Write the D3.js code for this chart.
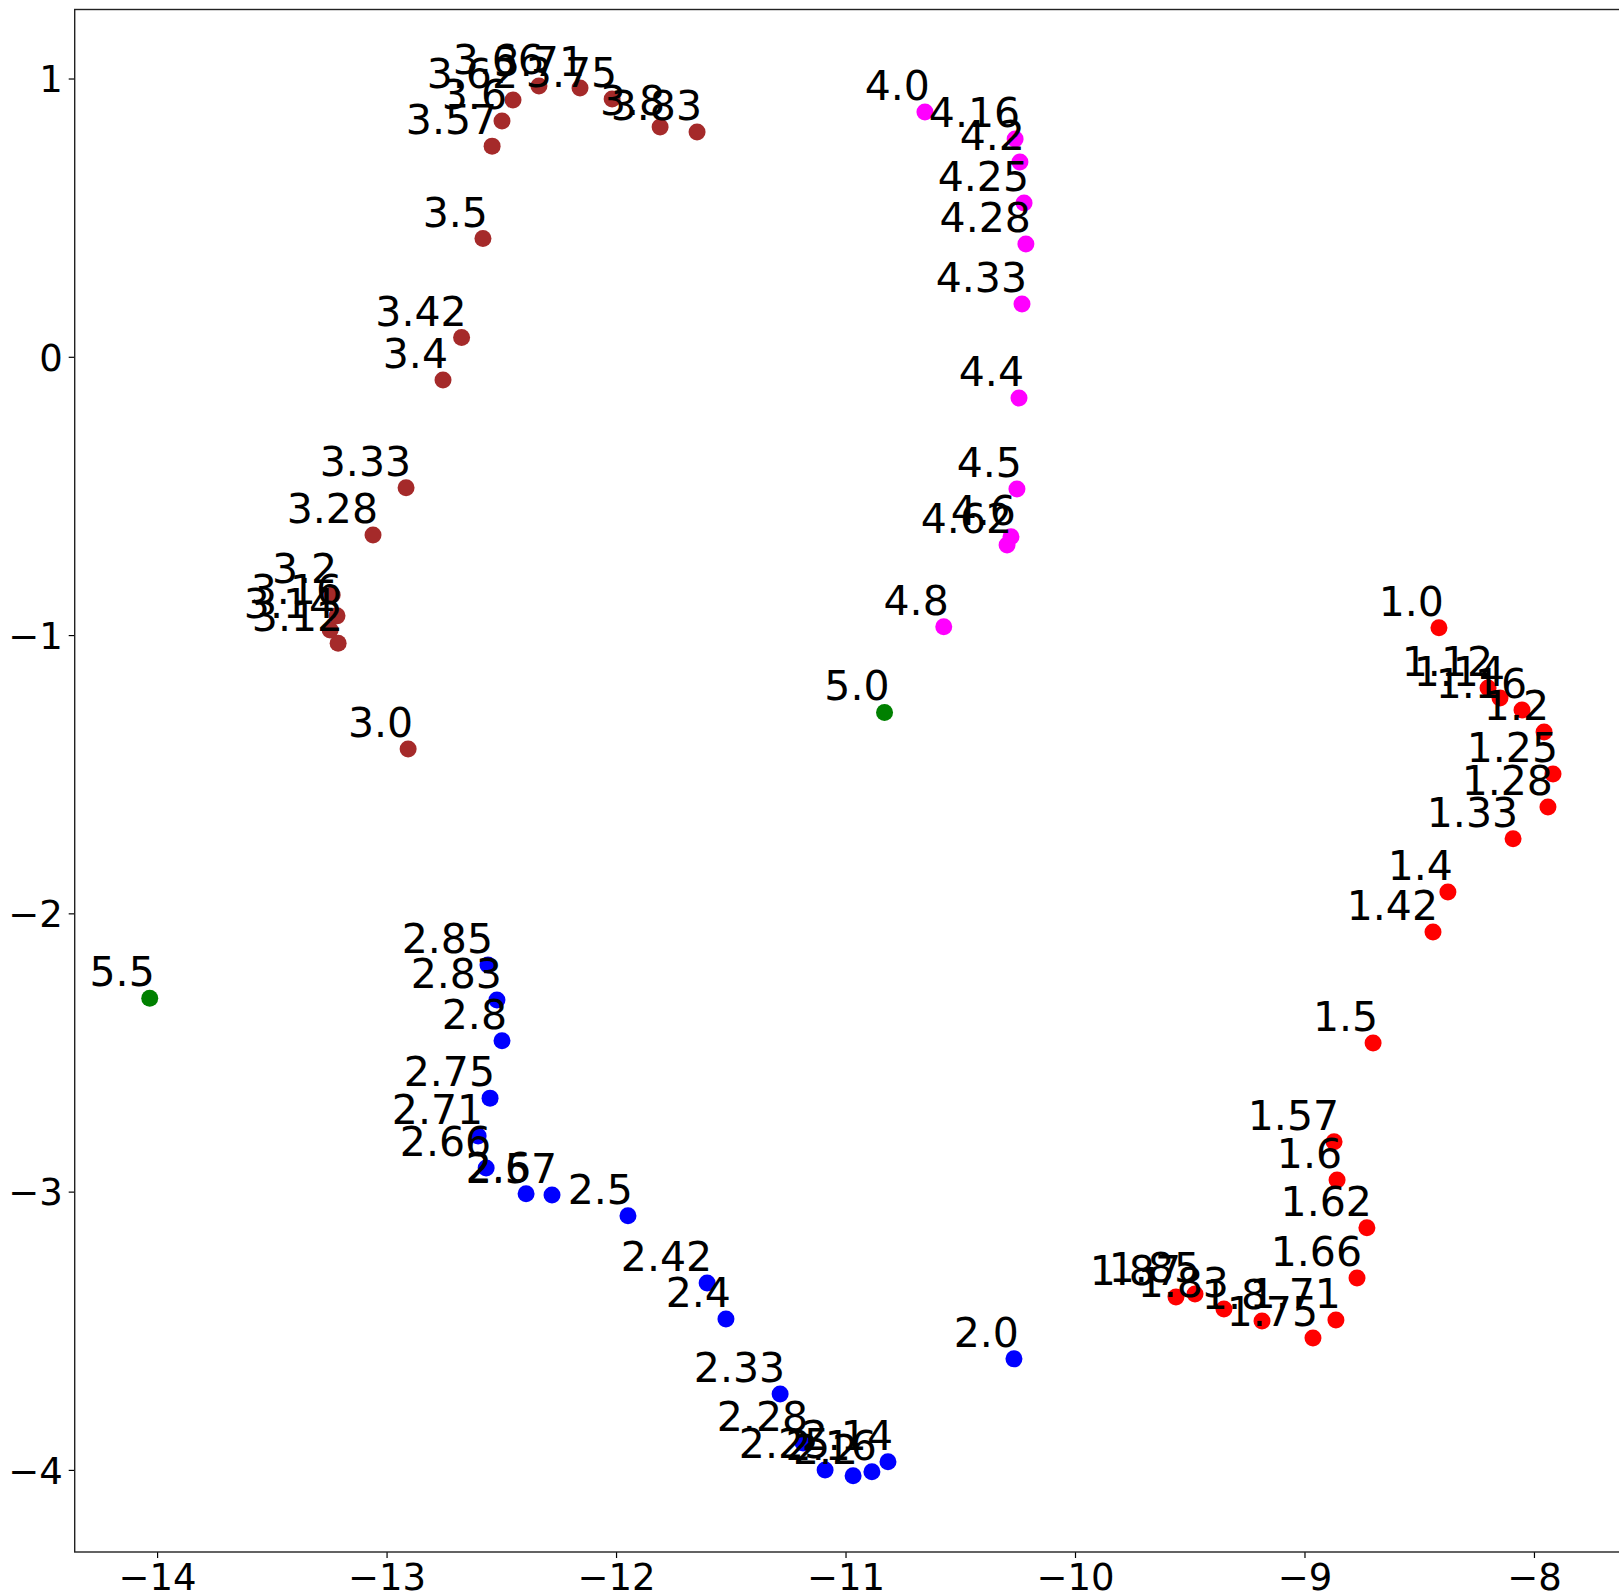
<!DOCTYPE html>
<html lang="en">
<head>
  <meta charset="UTF-8">
  <title>Labelled scatter</title>
  <style>
    body { margin: 0; background: #fff; }
    svg text { font-family: "DejaVu Sans", sans-serif; }
  </style>
</head>
<body>
  <svg id="chart"></svg>
  <script src="https://d3js.org/d3.v7.min.js"></script>
  <script>
    // one array set per colour group
    const redLabels = ["1.0","1.12","1.14","1.16","1.2","1.25","1.28","1.33","1.4","1.42","1.5","1.57","1.6","1.62","1.66","1.71","1.75","1.8","1.83","1.85","1.87"];
    const redX = [-8.414,-8.200,-8.148,-8.052,-7.956,-7.917,-7.939,-8.091,-8.375,-8.440,-8.701,-8.871,-8.858,-8.728,-8.771,-8.863,-8.963,-9.185,-9.351,-9.477,-9.560];
    const redY = [-0.974,-1.190,-1.226,-1.269,-1.348,-1.499,-1.618,-1.732,-1.923,-2.067,-2.466,-2.821,-2.958,-3.130,-3.310,-3.461,-3.526,-3.465,-3.422,-3.368,-3.379];

    const blueLabels = ["2.0","2.14","2.16","2.2","2.25","2.28","2.33","2.4","2.42","2.5","2.57","2.6","2.66","2.71","2.75","2.8","2.83","2.85"];
    const blueX = [-10.266,-10.815,-10.885,-10.967,-11.089,-11.185,-11.285,-11.521,-11.603,-11.948,-12.279,-12.392,-12.566,-12.601,-12.549,-12.497,-12.519,-12.558];
    const blueY = [-3.601,-3.971,-4.007,-4.021,-4.000,-3.903,-3.727,-3.458,-3.328,-3.087,-3.012,-3.008,-2.915,-2.800,-2.664,-2.458,-2.311,-2.186];

    const brownLabels = ["3.0","3.12","3.14","3.16","3.2","3.28","3.33","3.4","3.42","3.5","3.57","3.6","3.62","3.66","3.71","3.75","3.8","3.83"];
    const brownX = [-12.906,-13.211,-13.246,-13.216,-13.237,-13.059,-12.915,-12.754,-12.673,-12.580,-12.540,-12.497,-12.449,-12.336,-12.157,-12.017,-11.808,-11.647];
    const brownY = [-1.409,-1.029,-0.982,-0.931,-0.856,-0.640,-0.471,-0.083,0.069,0.425,0.757,0.847,0.923,0.973,0.966,0.926,0.826,0.808];

    const magentaLabels = ["4.0","4.16","4.2","4.25","4.28","4.33","4.4","4.5","4.6","4.62","4.8"];
    const magentaX = [-10.654,-10.261,-10.240,-10.222,-10.214,-10.231,-10.244,-10.253,-10.279,-10.296,-10.572];
    const magentaY = [0.880,0.783,0.700,0.553,0.405,0.190,-0.148,-0.475,-0.647,-0.676,-0.970];

    const greenLabels = ["5.0","5.5"];
    const greenX = [-10.830,-14.032];
    const greenY = [-1.278,-2.305];

    const xTicks = [-14,-13,-12,-11,-10,-9,-8];
    const yTicks = [1,0,-1,-2,-3,-4];

    const groups = [
      {labels: redLabels, xs: redX, ys: redY, color: "red"},
      {labels: blueLabels, xs: blueX, ys: blueY, color: "blue"},
      {labels: brownLabels, xs: brownX, ys: brownY, color: "brown"},
      {labels: magentaLabels, xs: magentaX, ys: magentaY, color: "magenta"},
      {labels: greenLabels, xs: greenX, ys: greenY, color: "green"}
    ];
    const points = groups.flatMap(g => g.labels.map((l, i) => ({label: l, x: g.xs[i], y: g.ys[i], color: g.color})));

    const W = 1619, H = 1596;
    const m = {left: 74.7, right: 1623, top: 9.5, bottom: 1552};

    const svg = d3.select("#chart").attr("width", W).attr("height", H);
    svg.append("rect").attr("width", W).attr("height", H).attr("fill", "#fff");

    const x = d3.scaleLinear().domain([-14.359, -7.612]).range([m.left, m.right]);
    const y = d3.scaleLinear().domain([-4.295, 1.248]).range([m.bottom, m.top]);

    const fmt = d => (d < 0 ? "\u2212" + Math.abs(d) : String(d));

    const gx = svg.append("g").attr("transform", `translate(0,${m.bottom})`)
      .call(d3.axisBottom(x).tickValues(xTicks).tickFormat(fmt).tickSize(6).tickPadding(6));
    const gy = svg.append("g").attr("transform", `translate(${m.left},0)`)
      .call(d3.axisLeft(y).tickValues(yTicks).tickFormat(fmt).tickSize(6).tickPadding(6));
    [gx, gy].forEach(g => {
      g.select(".domain").remove();
      g.selectAll("line").attr("stroke", "#000").attr("stroke-width", 1.2);
      g.selectAll("text").attr("fill", "#000").style("font-size", "37px");
    });
    gy.selectAll("text").attr("dy", "0.36em");
    gx.selectAll("text").attr("dy", "0.71em");

    // frame
    svg.append("rect")
      .attr("x", m.left).attr("y", m.top)
      .attr("width", m.right - m.left).attr("height", m.bottom - m.top)
      .attr("fill", "none").attr("stroke", "#222").attr("stroke-width", 1.4);

    svg.append("g").selectAll("circle")
      .data(points).join("circle")
      .attr("cx", d => x(d.x))
      .attr("cy", d => y(d.y))
      .attr("r", 8.5)
      .attr("fill", d => d.color);

    svg.append("g").selectAll("text")
      .data(points).join("text")
      .attr("x", d => x(d.x) + 5)
      .attr("y", d => y(d.y) - 12)
      .attr("text-anchor", "end")
      .style("font-size", "41px")
      .attr("fill", "#000")
      .text(d => d.label);
  </script>
</body>
</html>
